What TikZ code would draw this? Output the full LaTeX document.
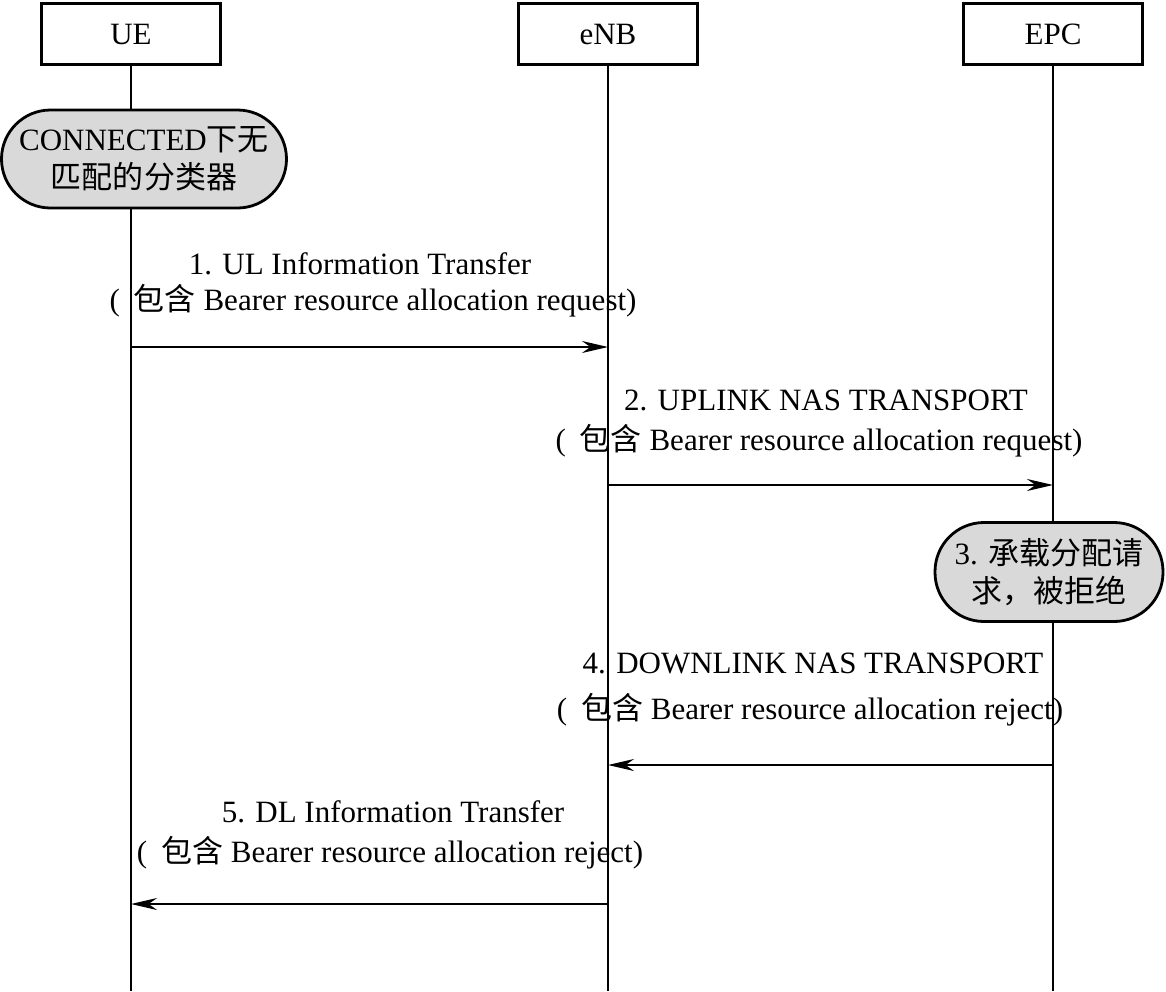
\documentclass[tikz,border=0pt]{standalone}
\usepackage{fontspec}
\setmainfont{Liberation Serif}
\newfontfamily\cjk{Noto Sans CJK SC}
\usetikzlibrary{arrows.meta}
\newcommand{\incl}{(\hspace{0.45em}{\cjk 包含} }
\begin{document}
\begin{tikzpicture}[x=1pt,y=-1pt,
  every node/.style={font=\fontsize{31}{38}\selectfont},
  entity/.style={draw, line width=3pt, minimum width=179pt, minimum height=61pt, inner sep=0pt},
  state/.style={draw, line width=2.8pt, fill=gray!30, align=center, inner sep=0pt},
  lifeline/.style={line width=2.8pt},
  msg/.style={line width=2.2pt, -{Stealth[length=26pt,width=12pt]}},
  lbl/.style={anchor=base, inner sep=0pt}]
\useasboundingbox (0,0) rectangle (1166,991);
% entities
\node[entity] (ue) at (131,34) {UE};
\node[entity] (enb) at (608,34) {eNB};
\node[entity] (epc) at (1053,34) {EPC};
\coordinate (bot) at (0,991);
\draw[lifeline] (ue.south) -- (ue |- bot);
\draw[lifeline] (enb.south) -- (enb |- bot);
\draw[lifeline] (epc.south) -- (epc |- bot);
% states
\node[state, minimum width=285pt, minimum height=98pt, rounded corners=49pt] (s1) at (144,159)
  {CONNECTED{\cjk 下无}\\{\cjk 匹配的分类器}};
\node[state, minimum width=228pt, minimum height=99pt, rounded corners=49pt] (s3) at (1049,572)
  {3. {\cjk 承载分配请}\\{\cjk 求，被拒绝}};
% message levels
\coordinate (y1) at (0,347);
\coordinate (y2) at (0,485);
\coordinate (y4) at (0,765);
\coordinate (y5) at (0,904);
% messages
\draw[msg] (ue |- y1) -- (enb |- y1);
\node[lbl] (l1a) at (360,274) {1. UL Information Transfer};
\node[lbl] (l1b) at (373,310) {\incl Bearer resource allocation request)};
\draw[msg] (enb |- y2) -- (epc |- y2);
\node[lbl] (l2a) at (826,410) {2. UPLINK NAS TRANSPORT};
\node[lbl] (l2b) at (819,450) {\incl Bearer resource allocation request)};
\draw[msg] (epc |- y4) -- (enb |- y4);
\node[lbl] (l4a) at (813,673) {4. DOWNLINK NAS TRANSPORT};
\node[lbl] (l4b) at (810,719) {\incl Bearer resource allocation reject)};
\draw[msg] (enb |- y5) -- (ue |- y5);
\node[lbl] (l5a) at (393,822) {5. DL Information Transfer};
\node[lbl] (l5b) at (390,862) {\incl Bearer resource allocation reject)};
\end{tikzpicture}
\end{document}
